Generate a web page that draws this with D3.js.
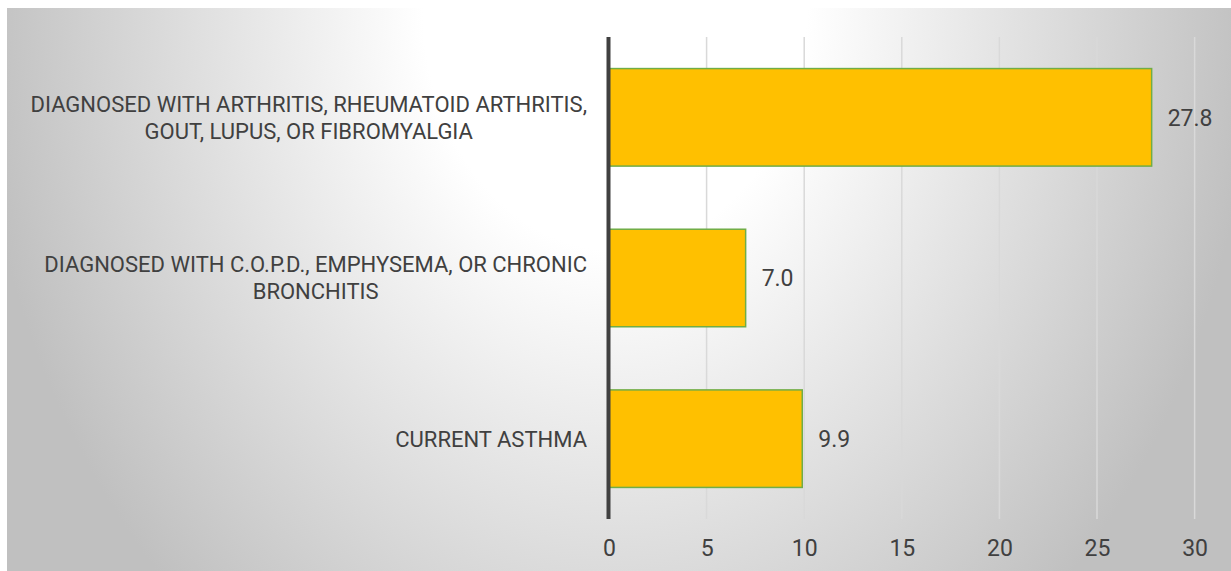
<!DOCTYPE html>
<html>
<head>
<meta charset="utf-8">
<script src="https://cdn.jsdelivr.net/npm/d3@7"></script>
<style>
  html, body { margin: 0; padding: 0; background: #ffffff; }
  svg { display: block; }
  text { font-family: Roboto, "Liberation Sans", Arial, sans-serif; fill: #404040; }
</style>
</head>
<body>
<svg id="chart" width="1231" height="571"></svg>
<script>
// ---- data ----
const categories = [
  "DIAGNOSED WITH ARTHRITIS, RHEUMATOID ARTHRITIS,\nGOUT, LUPUS, OR FIBROMYALGIA",
  "DIAGNOSED WITH C.O.P.D., EMPHYSEMA, OR CHRONIC\nBRONCHITIS",
  "CURRENT ASTHMA"
];
const values = [27.8, 7.0, 9.9];
const tickValues = [0, 5, 10, 15, 20, 25, 30];

// ---- layout ----
const W = 1231, H = 571;
const plot = { left: 609, right: 1194.6, top: 37, bottom: 519 };

const svg = d3.select("#chart");
const defs = svg.append("defs");
const grad = defs.append("radialGradient")
  .attr("id", "bg")
  .attr("gradientUnits", "userSpaceOnUse")
  .attr("cx", 615).attr("cy", 8).attr("r", 640)
  .attr("fx", 615).attr("fy", 8)
  .attr("gradientTransform", "translate(615,8) scale(1,1.26) translate(-615,-8)");
grad.append("stop").attr("offset", 0).attr("stop-color", "#ffffff");
grad.append("stop").attr("offset", 0.3).attr("stop-color", "#ffffff");
grad.append("stop").attr("offset", 1).attr("stop-color", "#c0c0c0");

svg.append("rect")
  .attr("x", 7).attr("y", 8).attr("width", W - 7).attr("height", H - 8)
  .attr("fill", "url(#bg)");

const x = d3.scaleLinear().domain([0, 30]).range([plot.left, plot.right]);
const y = d3.scaleBand().domain(d3.range(categories.length))
  .range([plot.top, plot.bottom])
  .paddingInner(0.393).paddingOuter(0.1965);

// gridlines
svg.append("g").selectAll("line")
  .data(tickValues.filter(d => d > 0))
  .join("line")
  .attr("x1", d => x(d)).attr("x2", d => x(d))
  .attr("y1", plot.top).attr("y2", plot.bottom)
  .attr("stroke", "#d9d9d9").attr("stroke-width", 1.5);

// bars
svg.append("g").selectAll("rect")
  .data(values)
  .join("rect")
  .attr("x", x(0))
  .attr("y", (d, i) => y(i))
  .attr("width", d => x(d) - x(0))
  .attr("height", y.bandwidth())
  .attr("fill", "#ffc000")
  .attr("stroke", "#70ad47")
  .attr("stroke-width", 1.5);

// vertical axis line
svg.append("line")
  .attr("x1", x(0) - 0.5).attr("x2", x(0) - 0.5)
  .attr("y1", plot.top).attr("y2", plot.bottom)
  .attr("stroke", "#404040").attr("stroke-width", 4);

// x axis tick labels
const xAxis = d3.axisBottom(x).tickValues(tickValues).tickSize(0).tickPadding(0)
  .tickFormat(d3.format("d"));
const gx = svg.append("g").attr("transform", `translate(0,${plot.bottom})`).call(xAxis);
gx.select(".domain").remove();
gx.selectAll("text")
  .attr("y", 37).attr("dy", null)
  .style("font-family", "Roboto, 'Liberation Sans', Arial, sans-serif")
  .style("font-size", "23px")
  .attr("fill", "#404040");

// value labels
svg.append("g").selectAll("text")
  .data(values)
  .join("text")
  .attr("x", d => x(d) + 16)
  .attr("y", (d, i) => y(i) + y.bandwidth() / 2)
  .attr("dy", "0.36em")
  .style("font-size", "23px")
  .text(d => d3.format(".1f")(d));

// category labels (block right-aligned, lines centered within block)
const labelRight = 587;
const lineH = 27;
categories.forEach((c, i) => {
  const lines = c.split("\n");
  const cy = y(i) + y.bandwidth() / 2;
  const g = svg.append("g");
  const ts = lines.map((ln, k) => g.append("text")
    .attr("y", cy + (k - (lines.length - 1) / 2) * lineH)
    .attr("dy", "0.36em")
    .attr("text-anchor", "middle")
    .style("font-size", "22px")
    .text(ln));
  const maxW = d3.max(ts, t => t.node().getComputedTextLength());
  ts.forEach(t => t.attr("x", labelRight - maxW / 2));
});
</script>
</body>
</html>
